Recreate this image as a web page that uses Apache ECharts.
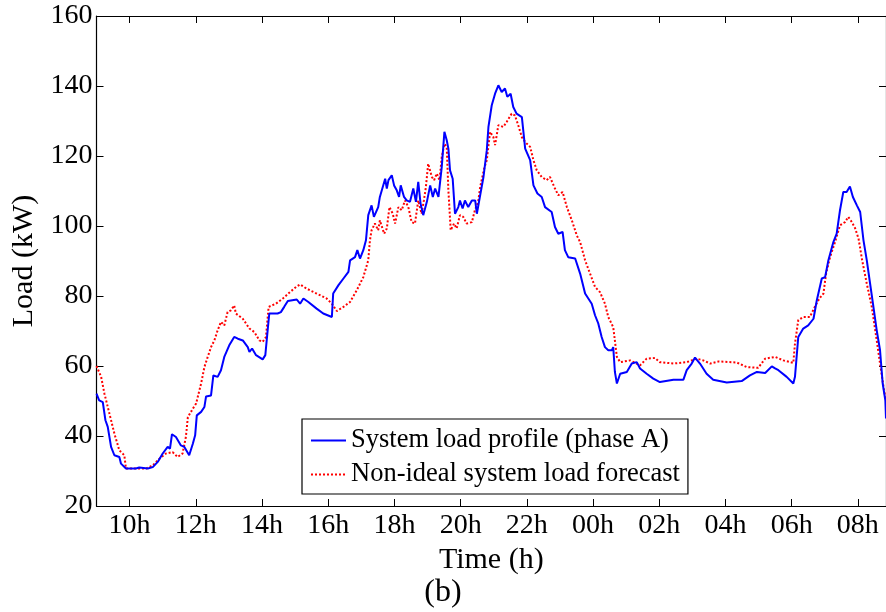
<!DOCTYPE html>
<html>
<head>
<meta charset="utf-8">
<script src="https://cdn.jsdelivr.net/npm/echarts@6/dist/echarts.min.js"></script>
<style>
  html, body { margin: 0; padding: 0; background: #fff; }
  #chart { width: 886px; height: 612px; }
</style>
</head>
<body>
<div id="chart"></div>
<script>
// ---- Data (hours since midnight of day 1; values in kW) ----
const tickHours = [10, 12, 14, 16, 18, 20, 22, 24, 26, 28, 30, 32];
const tickLabels = ['10h', '12h', '14h', '16h', '18h', '20h', '22h', '00h', '02h', '04h', '06h', '08h'];

const blueTime = [9.00, 9.08, 9.19, 9.27, 9.34, 9.44, 9.54, 9.69, 9.74, 9.89, 10.19, 10.29, 10.55, 10.70, 10.85, 11.00, 11.15, 11.22, 11.28, 11.40, 11.55, 11.65, 11.70, 11.80, 11.91, 11.98, 12.03, 12.16, 12.26, 12.31, 12.46, 12.53, 12.66, 12.76, 12.86, 13.01, 13.16, 13.27, 13.42, 13.57, 13.62, 13.70, 13.82, 14.02, 14.10, 14.17, 14.22, 14.47, 14.57, 14.67, 14.78, 15.05, 15.15, 15.25, 15.40, 15.65, 15.85, 16.11, 16.15, 16.31, 16.46, 16.61, 16.66, 16.81, 16.88, 16.96, 17.06, 17.14, 17.21, 17.31, 17.38, 17.51, 17.56, 17.72, 17.77, 17.82, 17.92, 17.99, 18.07, 18.14, 18.19, 18.29, 18.37, 18.47, 18.57, 18.65, 18.72, 18.79, 18.87, 18.98, 19.08, 19.16, 19.23, 19.33, 19.43, 19.51, 19.58, 19.63, 19.68, 19.76, 19.83, 19.93, 19.98, 20.06, 20.13, 20.23, 20.34, 20.44, 20.49, 20.59, 20.69, 20.79, 20.84, 20.94, 21.04, 21.14, 21.24, 21.34, 21.41, 21.51, 21.59, 21.69, 21.85, 21.95, 22.10, 22.20, 22.32, 22.45, 22.55, 22.75, 22.85, 22.95, 23.08, 23.15, 23.25, 23.46, 23.61, 23.76, 23.96, 24.06, 24.16, 24.26, 24.36, 24.46, 24.57, 24.61, 24.66, 24.72, 24.82, 25.02, 25.17, 25.32, 25.42, 25.62, 25.82, 26.02, 26.43, 26.73, 26.83, 26.98, 27.08, 27.23, 27.43, 27.63, 28.04, 28.49, 28.74, 28.95, 29.20, 29.40, 29.50, 29.60, 29.85, 30.05, 30.10, 30.20, 30.35, 30.50, 30.66, 30.76, 30.91, 31.01, 31.11, 31.26, 31.36, 31.46, 31.56, 31.66, 31.76, 31.85, 31.97, 32.07, 32.17, 32.27, 32.37, 32.47, 32.57, 32.67, 32.75, 32.83, 32.85];
const blueLoad = [52.1, 50.2, 49.7, 44.5, 42.6, 36.9, 34.5, 34.0, 32.1, 30.7, 30.7, 31.0, 30.7, 31.1, 32.6, 35.0, 36.9, 36.4, 40.5, 39.7, 37.3, 36.9, 37.3, 34.5, 37.8, 40.2, 45.9, 46.9, 48.3, 51.3, 51.6, 57.3, 56.9, 58.8, 62.6, 65.9, 68.3, 67.8, 67.3, 65.4, 64.0, 65.0, 63.1, 61.9, 63.1, 70.2, 75.0, 75.0, 75.4, 76.9, 78.6, 79.0, 77.8, 79.3, 78.3, 76.4, 75.0, 74.0, 80.7, 83.1, 85.0, 86.9, 90.2, 91.1, 93.1, 90.7, 93.1, 95.9, 103.1, 105.9, 102.6, 105.4, 108.3, 113.5, 110.7, 113.1, 114.5, 111.6, 110.2, 108.3, 111.6, 108.3, 107.3, 106.9, 110.7, 106.9, 112.6, 106.4, 103.1, 106.9, 111.6, 108.3, 110.7, 108.3, 116.9, 126.9, 124.5, 122.1, 115.9, 113.5, 103.5, 105.4, 107.3, 105.0, 107.3, 105.4, 107.3, 107.3, 103.5, 108.8, 114.0, 121.6, 128.3, 134.5, 137.8, 140.2, 138.3, 139.3, 136.9, 137.8, 134.0, 132.1, 131.1, 122.1, 118.8, 111.6, 109.3, 108.3, 105.4, 104.0, 99.7, 97.8, 98.3, 93.1, 91.1, 90.7, 86.4, 80.7, 77.8, 74.5, 72.1, 68.3, 65.4, 64.5, 64.5, 65.4, 58.3, 55.0, 57.8, 58.3, 60.7, 61.1, 59.3, 57.8, 56.4, 55.4, 56.1, 56.1, 58.8, 60.7, 62.4, 60.7, 57.8, 56.1, 55.3, 55.7, 57.3, 58.3, 58.0, 59.9, 59.3, 58.8, 56.9, 55.0, 56.9, 68.3, 70.7, 71.6, 73.5, 78.8, 85.0, 85.4, 90.2, 95.4, 97.8, 104.5, 109.7, 109.7, 111.3, 108.3, 105.9, 104.0, 95.9, 90.2, 83.5, 76.9, 70.2, 64.5, 55.0, 50.2, 45.0];

const redTime = [9.00, 9.14, 9.24, 9.39, 9.54, 9.69, 9.84, 9.89, 10.50, 10.70, 10.90, 11.10, 11.30, 11.45, 11.60, 11.70, 11.76, 11.91, 12.01, 12.16, 12.26, 12.36, 12.46, 12.56, 12.66, 12.76, 12.86, 12.96, 13.06, 13.16, 13.21, 13.42, 13.62, 13.77, 13.92, 14.02, 14.12, 14.20, 14.42, 14.63, 14.82, 15.03, 15.15, 15.35, 15.65, 15.95, 16.11, 16.26, 16.46, 16.66, 16.86, 17.06, 17.21, 17.26, 17.31, 17.41, 17.51, 17.56, 17.69, 17.77, 17.85, 17.95, 18.02, 18.12, 18.22, 18.32, 18.42, 18.52, 18.62, 18.72, 18.82, 18.89, 18.95, 19.02, 19.13, 19.20, 19.28, 19.36, 19.43, 19.51, 19.58, 19.63, 19.70, 19.80, 19.88, 19.98, 20.08, 20.18, 20.34, 20.43, 20.53, 20.59, 20.71, 20.79, 20.89, 20.99, 21.04, 21.14, 21.29, 21.39, 21.54, 21.64, 21.74, 21.85, 21.95, 22.10, 22.20, 22.30, 22.45, 22.60, 22.70, 22.85, 22.95, 23.08, 23.21, 23.36, 23.51, 23.61, 23.76, 23.91, 24.06, 24.21, 24.36, 24.46, 24.61, 24.72, 24.82, 25.12, 25.42, 25.62, 25.87, 26.02, 26.43, 26.83, 27.13, 27.33, 27.54, 27.79, 28.34, 28.64, 28.99, 29.20, 29.50, 29.75, 30.05, 30.10, 30.20, 30.35, 30.55, 30.70, 30.84, 30.96, 31.04, 31.16, 31.31, 31.46, 31.61, 31.71, 31.82, 31.92, 32.02, 32.13, 32.27, 32.42, 32.57, 32.67, 32.79, 32.85];
const redLoad = [60.0, 56.9, 52.1, 46.4, 40.7, 35.9, 34.5, 30.7, 30.7, 31.6, 33.5, 35.0, 35.4, 34.0, 35.0, 39.7, 45.4, 47.8, 49.3, 55.0, 59.7, 62.6, 65.4, 67.3, 70.2, 72.6, 71.6, 75.4, 75.9, 77.3, 75.0, 73.5, 70.7, 69.7, 67.3, 66.9, 68.3, 76.9, 77.8, 79.3, 80.9, 82.6, 83.3, 82.1, 80.7, 79.3, 77.8, 75.7, 76.9, 78.3, 81.6, 85.4, 90.2, 95.9, 98.8, 100.7, 98.8, 101.6, 97.8, 99.3, 105.4, 103.5, 100.7, 105.4, 104.5, 107.3, 105.4, 101.1, 100.7, 107.3, 103.5, 107.3, 111.1, 117.8, 114.0, 113.1, 115.0, 113.1, 119.7, 123.5, 122.6, 110.2, 98.8, 100.7, 99.3, 103.1, 102.6, 100.7, 101.1, 104.5, 106.9, 111.1, 116.4, 118.8, 126.9, 125.4, 123.1, 128.8, 128.3, 129.7, 132.1, 131.6, 128.8, 125.4, 124.0, 122.6, 118.8, 115.9, 114.0, 113.1, 114.0, 110.7, 108.8, 109.7, 105.4, 101.6, 97.3, 95.4, 90.2, 86.4, 82.6, 81.1, 77.8, 74.0, 71.1, 62.6, 61.1, 61.6, 60.2, 62.1, 62.3, 61.1, 60.7, 61.1, 62.1, 61.6, 60.7, 61.3, 61.0, 59.7, 59.5, 62.1, 62.6, 61.6, 60.9, 66.4, 73.1, 74.0, 74.0, 76.9, 79.3, 80.7, 86.4, 91.1, 95.4, 100.2, 101.1, 102.6, 101.1, 99.3, 96.4, 90.2, 83.5, 76.9, 67.3, 60.7, 53.1, 50.0];

const seriesNames = ['System load profile (phase A)', 'Non-ideal system load forecast'];

// ---- Chart ----
const xMin = 9, xMax = 32.85;
const FONT = 'Liberation Serif, Times New Roman, serif';
const pair = (ts, vs) => ts.map((t, i) => [t, vs[i]]);

const chart = echarts.init(document.getElementById('chart'), null, { renderer: 'canvas' });
const axisLine = { show: true, lineStyle: { color: '#000', width: 1.2 } };
chart.setOption({
  animation: false,
  backgroundColor: '#fff',
  grid: { left: 96.5, right: 0, top: 16, bottom: 106, containLabel: false },
  legend: {
    orient: 'vertical',
    left: 302, top: 419,
    padding: [8, 8, 6, 8],
    itemGap: 7,
    itemWidth: 35, itemHeight: 14,
    borderColor: '#000', borderWidth: 1.2,
    backgroundColor: '#fff',
    itemStyle: { opacity: 0 },
    textStyle: { fontFamily: FONT, fontSize: 26.5, color: '#000' },
    data: seriesNames
  },
  xAxis: [{
    type: 'value', min: xMin, max: xMax, position: 'bottom',
    name: 'Time (h)', nameLocation: 'middle', nameGap: 26,
    nameTextStyle: { fontFamily: FONT, fontSize: 30, color: '#000' },
    axisLine,
    axisTick: { show: true, inside: true, length: 7, customValues: tickHours, lineStyle: { color: '#000' } },
    axisLabel: {
      show: true, customValues: tickHours, margin: 6,
      fontFamily: FONT, fontSize: 28, color: '#000',
      formatter: v => tickLabels[tickHours.indexOf(Math.round(v))] || ''
    },
    splitLine: { show: false }
  }, {
    type: 'value', min: xMin, max: xMax, position: 'top',
    axisLine,
    axisTick: { show: true, inside: true, length: 7, customValues: tickHours, lineStyle: { color: '#000' } },
    axisLabel: { show: false },
    splitLine: { show: false }
  }],
  yAxis: [{
    type: 'value', min: 20, max: 160, interval: 20, position: 'left',
    name: 'Load (kW)', nameLocation: 'middle', nameGap: 55, nameRotate: 90,
    nameTextStyle: { fontFamily: FONT, fontSize: 30, color: '#000' },
    axisLine,
    axisTick: { show: true, inside: true, length: 7, lineStyle: { color: '#000' } },
    axisLabel: { margin: 4, fontFamily: FONT, fontSize: 28, color: '#000' },
    splitLine: { show: false }
  }, {
    type: 'value', min: 20, max: 160, interval: 20, position: 'right',
    axisLine,
    axisTick: { show: true, inside: true, length: 7, lineStyle: { color: '#000' } },
    axisLabel: { show: false },
    splitLine: { show: false }
  }],
  graphic: [{
    type: 'text', left: 'center', top: 577,
    style: { text: '(b)', fontFamily: FONT, fontSize: 32, fill: '#000' }
  }],
  series: [{
    name: seriesNames[0], type: 'line', xAxisIndex: 0, yAxisIndex: 0,
    data: pair(blueTime, blueLoad),
    symbol: 'none', showSymbol: false,
    lineStyle: { color: '#0000ff', width: 2 },
    itemStyle: { color: '#0000ff' },
    z: 3
  }, {
    name: seriesNames[1], type: 'line', xAxisIndex: 0, yAxisIndex: 0,
    data: pair(redTime, redLoad),
    symbol: 'none', showSymbol: false,
    lineStyle: { color: '#ff0000', width: 2, type: [2, 2] },
    itemStyle: { color: '#ff0000' },
    z: 2
  }]
});
</script>
</body>
</html>
